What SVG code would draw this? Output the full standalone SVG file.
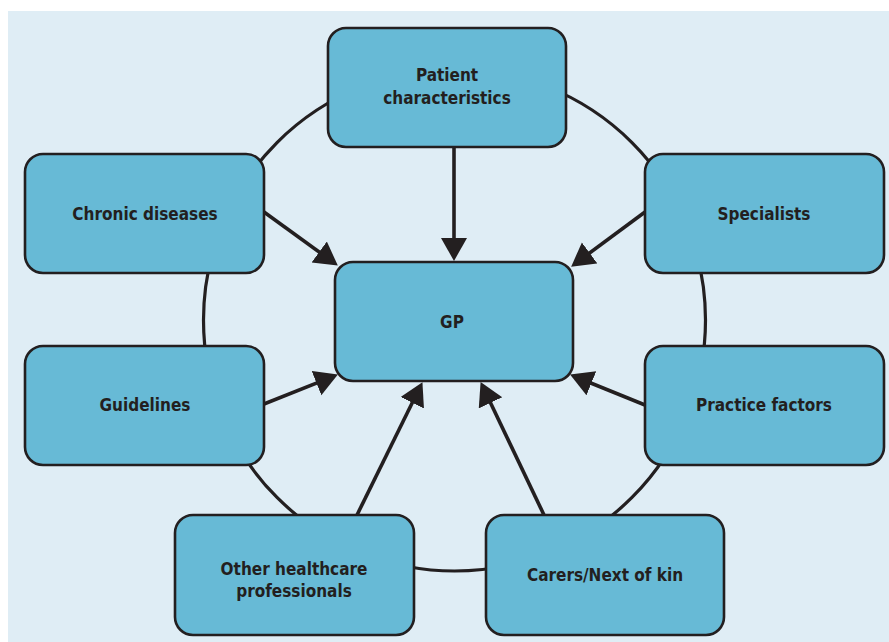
<svg xmlns="http://www.w3.org/2000/svg" width="889" height="642" viewBox="0 0 889 642">
<defs>
<style>
.box{fill:#67bad6;stroke:#231f20;stroke-width:2.6}
.lbl{font-family:"DejaVu Sans Condensed","DejaVu Sans","Liberation Sans",sans-serif;font-stretch:condensed;font-weight:bold;font-size:17px;fill:#231f20;text-anchor:middle}
.arr{stroke:#231f20;stroke-width:3.6;fill:none;marker-end:url(#ah)}
</style>
<marker id="ah" markerUnits="userSpaceOnUse" markerWidth="25" markerHeight="27" refX="10" refY="13" orient="auto" viewBox="0 0 25 27">
<path d="M0,0 L23,13 L0,26 z" fill="#231f20"/>
</marker>
</defs>
<rect x="0" y="0" width="889" height="642" fill="#ffffff"/>
<rect x="8" y="11" width="881" height="631" fill="#dfedf5"/>
<g id="ring">
<circle cx="454.5" cy="320" r="251" fill="none" stroke="#231f20" stroke-width="3.2"/>
</g>
<g id="connectors">
<line class="arr" x1="454" y1="147" x2="454" y2="248"/>
<line class="arr" x1="264" y1="212" x2="327.3" y2="257.9"/>
<line class="arr" x1="645" y1="212" x2="581.6" y2="258.9"/>
<line class="arr" x1="264" y1="404" x2="325.8" y2="379.4"/>
<line class="arr" x1="645" y1="405" x2="582.1" y2="379.5"/>
<line class="arr" x1="357" y1="515" x2="416.7" y2="393.8"/>
<line class="arr" x1="544" y1="515" x2="486.2" y2="393.8"/>
</g>
<g id="patient">
<rect class="box" x="328" y="28" width="238" height="119" rx="18"/>
<text class="lbl" x="447" y="81">Patient</text>
<text class="lbl" x="447" y="104">characteristics</text>
</g>
<g id="gp">
<rect class="box" x="335" y="262" width="238" height="119" rx="18"/>
<text class="lbl" x="452" y="328">GP</text>
</g>
<g id="chronic">
<rect class="box" x="25" y="154" width="239" height="119" rx="18"/>
<text class="lbl" x="145" y="220">Chronic diseases</text>
</g>
<g id="specialists">
<rect class="box" x="645" y="154" width="239" height="119" rx="18"/>
<text class="lbl" x="764" y="220">Specialists</text>
</g>
<g id="guidelines">
<rect class="box" x="25" y="346" width="239" height="119" rx="18"/>
<text class="lbl" x="145" y="411">Guidelines</text>
</g>
<g id="practice">
<rect class="box" x="645" y="346" width="239" height="119" rx="18"/>
<text class="lbl" x="764" y="411">Practice factors</text>
</g>
<g id="other">
<rect class="box" x="175" y="515" width="239" height="120" rx="18"/>
<text class="lbl" x="294" y="575">Other healthcare</text>
<text class="lbl" x="294" y="597">professionals</text>
</g>
<g id="carers">
<rect class="box" x="486" y="515" width="238" height="120" rx="18"/>
<text class="lbl" x="605" y="581">Carers/Next of kin</text>
</g>
</svg>
